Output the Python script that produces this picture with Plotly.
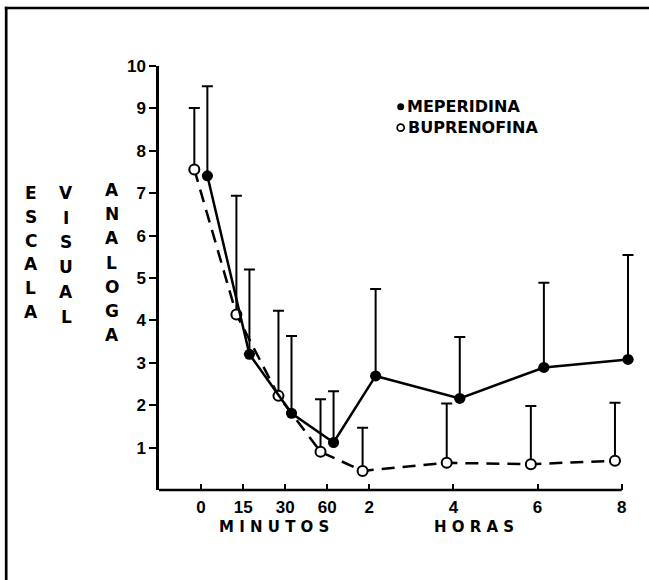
import plotly.graph_objects as go

# ---------------- data ----------------
tick_labels = ["0", "15", "30", "60", "2", "4", "6", "8"]
tick_pos = [0, 1, 2, 3, 4, 6, 8, 10]          # axis positions of the time points
y_ticks = [1, 2, 3, 4, 5, 6, 7, 8, 9, 10]

mep_mean = [7.41, 3.20, 1.81, 1.12, 2.69, 2.16, 2.89, 3.08]
mep_sd = [2.11, 2.00, 1.82, 1.21, 2.05, 1.45, 2.00, 2.46]
bup_mean = [7.56, 4.14, 2.22, 0.90, 0.45, 0.64, 0.61, 0.69]
bup_sd = [1.45, 2.80, 2.01, 1.24, 1.02, 1.40, 1.37, 1.37]
series_names = ["MEPERIDINA", "BUPRENOFINA"]

MEP_OFFSET = 0.15
BUP_OFFSET = -0.16

# ---------------- layout geometry ----------------
W, H = 649, 580
L, R, T, B = 159, 13, 66, 90
PW, PH = W - L - R, H - T - B


def px_x(px):
    return (px - L) / PW


def px_y(py):
    return (H - B - py) / PH


TXT = dict(family="DejaVu Sans", size=15, color="black", weight="bold")
TICKF = dict(family="Liberation Sans", size=17, color="black", weight="bold")

fig = go.Figure()

fig.add_trace(go.Scatter(
    x=[p + BUP_OFFSET for p in tick_pos], y=bup_mean, name=series_names[1],
    mode="lines+markers",
    line=dict(color="black", width=2.5, dash="13px,8px"),
    marker=dict(symbol="circle", size=10, color="white",
                line=dict(color="black", width=2)),
    error_y=dict(type="data", symmetric=False, array=bup_sd,
                 arrayminus=[0] * len(bup_sd), color="black",
                 thickness=2, width=5.5),
    cliponaxis=False, showlegend=False,
))
fig.add_trace(go.Scatter(
    x=[p + MEP_OFFSET for p in tick_pos], y=mep_mean, name=series_names[0],
    mode="lines+markers",
    line=dict(color="black", width=2.5),
    marker=dict(symbol="circle", size=11, color="black"),
    error_y=dict(type="data", symmetric=False, array=mep_sd,
                 arrayminus=[0] * len(mep_sd), color="black",
                 thickness=2, width=5.5),
    cliponaxis=False, showlegend=False,
))

x_lo = -1
x_hi = x_lo + PW / ((621.7 - L) / (tick_pos[-1] - x_lo))

fig.update_layout(
    width=W, height=H,
    margin=dict(l=L, r=R, t=T, b=B),
    paper_bgcolor="white", plot_bgcolor="white",
    showlegend=False,
    xaxis=dict(range=[x_lo, x_hi], tickvals=tick_pos, ticktext=tick_labels,
               ticks="inside", ticklen=6, tickwidth=2, tickcolor="black",
               showline=False, showgrid=False, zeroline=False,
               ticklabelstandoff=5,
               tickfont=TICKF, fixedrange=True),
    yaxis=dict(range=[0, 10], tickvals=y_ticks, ticktext=[str(v) for v in y_ticks],
               ticks="outside", ticklen=7, tickwidth=2, tickcolor="black",
               showline=True, linewidth=2.5, linecolor="black",
               showgrid=False, zeroline=False, tickfont=TICKF, fixedrange=True),
)

shapes = []
# x axis line (ends at the last time tick)
shapes.append(dict(type="line", xref="x", yref="paper", x0=x_lo, x1=tick_pos[-1],
                   y0=0, y1=0, line=dict(color="black", width=2.7)))
# frame (top and left edges visible)
shapes.append(dict(type="line", xref="paper", yref="paper",
                   x0=px_x(4.8), x1=px_x(W + 10), y0=px_y(8), y1=px_y(8),
                   line=dict(color="black", width=2.7)))
shapes.append(dict(type="line", xref="paper", yref="paper",
                   x0=px_x(6.2), x1=px_x(6.2), y0=px_y(6.8), y1=px_y(H + 10),
                   line=dict(color="black", width=2.7)))
# legend symbols
for cy, filled in [(106.7, True), (127.7, False)]:
    shapes.append(dict(type="circle", xref="paper", yref="paper",
                       xsizemode="pixel", ysizemode="pixel",
                       xanchor=px_x(400.7), yanchor=px_y(cy),
                       x0=-3.5, x1=3.5, y0=-3.5, y1=3.5,
                       fillcolor="black" if filled else "white",
                       line=dict(color="black", width=0 if filled else 1.7)))
fig.update_layout(shapes=shapes)

ann = []
# legend labels
ann.append(dict(text=series_names[0], x=px_x(404.5), y=px_y(106.7), xref="paper",
                yref="paper", xanchor="left", yanchor="middle", showarrow=False,
                font=dict(TXT, size=16)))
ann.append(dict(text=series_names[1], x=px_x(405.5), y=px_y(127.7), xref="paper",
                yref="paper", xanchor="left", yanchor="middle", showarrow=False,
                font=dict(TXT, size=16)))
# x axis titles
ann.append(dict(text="M I N U T O S", x=px_x(274), y=px_y(527), xref="paper",
                yref="paper", xanchor="center", yanchor="middle", showarrow=False,
                font=TXT))
ann.append(dict(text="H O R A S", x=px_x(474), y=px_y(527), xref="paper",
                yref="paper", xanchor="center", yanchor="middle", showarrow=False,
                font=TXT))
# vertical y axis title, three columns of letters
columns = [("ESCALA", 30.7, 193.3, 23.7),
           ("VISUAL", 66.0, 193.0, 24.7),
           ("ANALOGA", 111.7, 190.0, 24.2)]
for word, cx, y0, step in columns:
    for i, ch in enumerate(word):
        ann.append(dict(text=ch, x=px_x(cx), y=px_y(y0 + i * step), xref="paper",
                        yref="paper", xanchor="center", yanchor="middle",
                        showarrow=False, font=dict(TXT, size=17)))
fig.update_layout(annotations=ann)

fig.write_html("out.html",
               config={"displayModeBar": False},
               post_script="document.body.style.margin='0';"
                           "document.body.style.overflow='hidden';")
